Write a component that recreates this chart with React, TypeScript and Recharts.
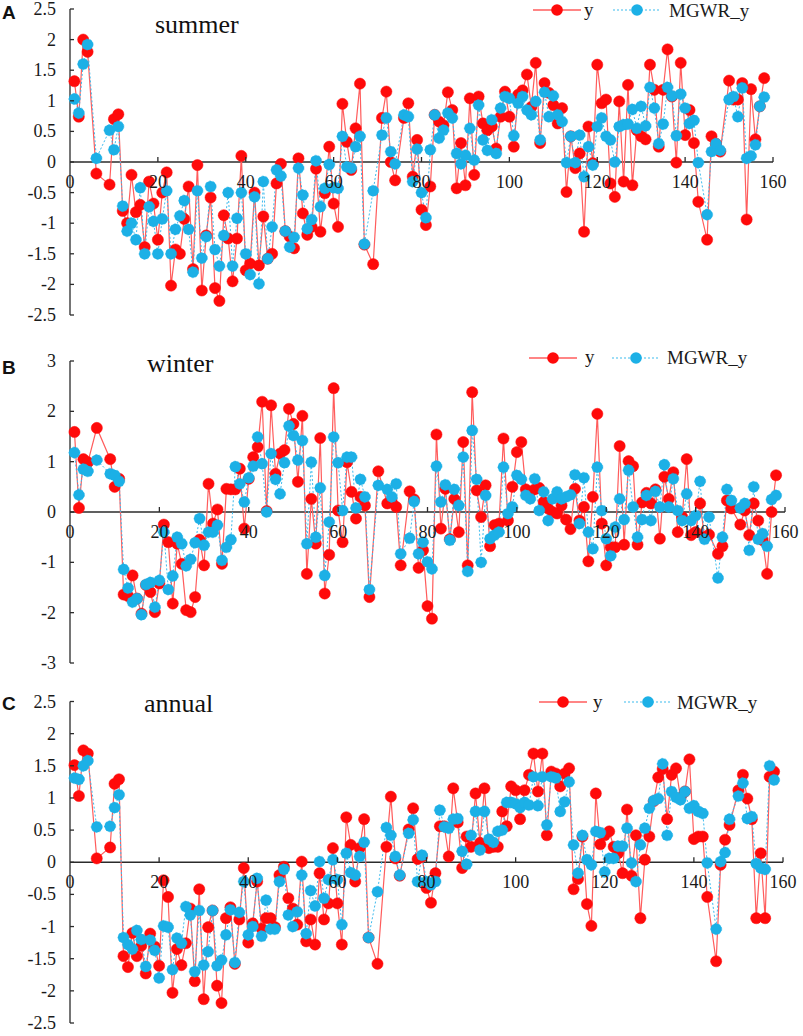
import React from 'react';
import { LineChart, Line, XAxis, YAxis, ReferenceLine } from 'recharts';

document.body.style.margin = '0';

// station index on the x axis (some ids have no value)
const stationIds = [
  1, 2, 3, 4, 6,
  9, 10, 11, 12, 13, 14, 15, 16, 17, 18,
  19, 20, 21, 22, 23, 24, 25, 26, 27, 28,
  29, 30, 31, 32, 33, 34, 35, 36, 37, 38,
  39, 40, 41, 42, 43, 44, 45, 46, 47, 48,
  49, 50, 51, 52, 53, 54, 55, 56, 57, 58,
  59, 60, 61, 62, 63, 64, 65, 66, 67,
  69, 71, 72, 73, 74,
  76, 77, 78, 79, 80, 81, 82, 83, 84, 85,
  86, 87, 88, 89, 90, 91, 92, 93, 94, 95,
  96, 97, 98, 99, 100, 101, 102, 103, 104, 105,
  106, 107, 108, 109, 110, 111, 112, 113, 114, 115,
  116, 117, 118, 119, 120, 121, 122, 123, 124, 125,
  126, 127, 128, 129, 130, 131, 132, 133, 134, 135,
  136, 137, 138, 139, 140, 141, 142, 143,
  145, 146, 147, 148,
  150, 151, 152, 153, 154, 155, 156, 157, 158,
];

const summerY = [
  1.32, 0.74, 2.0, 1.8, -0.19,
  -0.37, 0.7, 0.78, -0.8, -1.0, -0.21, -0.82, -0.7, -1.39, -0.32,
  -0.68, -1.27, -0.5, -0.17, -2.02, -1.43, -1.5, -0.93, -0.4, -1.75,
  -0.05, -2.1, -1.2, -0.58, -2.06, -2.27, -0.87, -1.25, -1.95, -1.25,
  0.1, -1.77, -1.66, -0.5, -1.69, -0.89, -1.58, -1.5, -0.35, -0.03,
  -1.13, -1.22, -1.41, 0.06, -0.84, -1.19, -1.06, -0.11, -1.14, -0.51,
  0.25, -0.68, -1.06, 0.95, 0.33, -0.13, 0.55, 1.28, -1.35,
  -1.67, 0.72, 1.15, 0.0, -0.3,
  0.72, 0.96, -0.24, 0.36, -0.78, -1.03, -0.4, 0.77, 0.66, 0.6,
  1.14, 0.85, -0.43, 0.31, -0.38, 1.04, -0.21, 1.07, 0.63, 0.52,
  0.58, 0.22, 0.74, 1.15, 0.74, 0.25, 1.1, 1.17, 1.43, 0.9,
  1.62, 0.31, 1.29, 1.13, 0.93, 0.63, 0.88, -0.49, 0.42, -0.1,
  0.14, -1.14, 0.58, -0.02, 1.59, 0.96, 1.02, -0.35, -0.57, 0.99,
  -0.32, 1.26, -0.38, 0.52, 0.42, 0.37, 1.59, 1.18, 0.25, 1.18,
  1.84, 1.07, -0.01, 1.62, 0.44, 0.85, 0.31, -0.65,
  -1.27, 0.42, 0.3, 0.17,
  1.33, 1.02, 1.02, 1.29, -0.94, 1.19, 0.37, 0.91, 1.37,
];

const summerMGWR = [
  1.03, 0.8, 1.6, 1.92, 0.06,
  0.52, 0.2, 0.58, -0.72, -1.13, -1.0, -1.27, -0.42, -1.5, -0.73,
  -0.97, -1.5, -0.93, -0.47, -1.5, -1.1, -0.88, -0.63, -1.1, -1.8,
  -0.47, -1.57, -1.22, -0.4, -1.43, -1.7, -1.2, -0.5, -1.7, -0.92,
  -0.5, -1.5, -1.84, -0.57, -1.99, -0.32, -1.58, -1.06, -0.13, -0.23,
  -1.13, -1.39, -1.23, -0.1, -0.54, -1.09, -0.94, 0.02, -0.73, -0.43,
  -0.04, -0.42, -0.43, 0.42, -0.08, -0.1, 0.25, 0.42, -1.34,
  -0.47, 0.44, 0.72, 0.17, -0.03,
  0.77, 0.74, -0.32, 0.21, -0.5, -0.91, 0.2, 0.77, 0.39, 0.52,
  0.8, 0.72, 0.14, -0.03, 0.11, 0.55, 0.03, 0.93, 0.36, 0.19,
  0.69, 0.14, 0.88, 1.07, 1.04, 0.43, 0.96, 1.07, 0.85, 0.77,
  0.99, 0.36, 1.14, 0.74, 1.08, 0.77, 0.66, -0.01, 0.42, -0.01,
  0.44, -0.24, 0.25, -0.05, 0.58, 0.72, 0.42, 0.36, 0.0, 0.58,
  0.61, 0.62, 0.86, 0.55, 0.91, 0.59, 1.22, 0.88, 0.3, 0.62,
  1.22, 1.08, 0.43, 1.11, 0.88, 0.63, 0.68, -0.01,
  -0.86, 0.17, 0.3, 0.19,
  1.02, 1.07, 0.74, 1.21, 0.06, 0.1, 0.28, 0.91, 1.06,
];

const winterY = [
  1.59, 0.08, 1.05, 0.99, 1.67,
  1.05, 0.5, 0.66, -1.64, -1.67, -1.26, -1.72, -2.02, -1.45, -1.59,
  -1.99, -1.42, -0.25, -0.6, -1.82, -0.63, -1.03, -1.95, -1.99, -1.69,
  -0.55, -1.06, 0.56, -0.23, 0.05, -1.03, 0.46, 0.45, 0.45, 0.86,
  -0.33, 0.66, 1.09, 1.29, 2.19, 0.02, 2.12, 0.76, 1.16, 1.23,
  2.05, 1.75, 0.6, 1.91, -1.23, 0.26, -0.63, 1.47, -1.62, -0.85,
  2.46, 0.03, -0.6, 0.99, 0.4, -0.13, 0.3, 0.13, -1.69,
  0.81, 0.17, 0.2, 0.1, -1.06,
  0.41, 0.25, -1.11, -0.76, -1.87, -2.12, 1.54, -0.33, 0.46, -0.54,
  0.26, -0.4, 1.39, -1.06, 2.38, 0.43, -0.1, 0.53, -0.68, -0.26,
  -0.23, 1.46, -0.17, 0.5, 1.19, 1.39, 0.45, 0.4, 0.45, 0.48,
  0.2, 0.07, 0.0, -0.03, 0.13, -0.15, -0.34, 0.46, -0.17, 0.1,
  -0.98, 0.3, 1.95, -0.23, -1.06, -0.7, -0.7, 1.31, -0.65, 1.01,
  0.91, -0.65, 0.19, 0.38, 0.17, 0.45, -0.53, 0.7, 0.26, 0.79,
  -0.4, -0.1, 1.05, -0.46, -0.4, 0.17, -0.5, -0.45,
  -0.83, -0.68, 0.23, 0.07,
  -0.25, 0.03, -0.46, 0.17, -0.17, -0.56, -1.23, 0.0, 0.73,
];

const winterMGWR = [
  1.18, 0.34, 0.85, 0.81, 1.03,
  0.76, 0.73, 0.61, -1.14, -1.51, -1.79, -1.72, -2.04, -1.44, -1.4,
  -1.89, -1.36, -0.4, -1.54, -1.27, -0.5, -0.63, -1.07, -0.94, -0.61,
  -0.13, -0.66, -0.4, -0.4, -0.26, -0.96, -0.7, -0.55, 0.9, 0.56,
  0.2, 0.68, 0.91, 1.49, 0.96, 0.0, 1.16, 0.65, 0.36, 0.98,
  1.71, 1.52, 1.03, 1.42, -0.63, 0.99, -0.5, 0.48, -1.26, -0.2,
  1.49, 0.98, 0.03, 1.09, 1.09, 0.08, 0.65, 0.3, -1.54,
  0.53, 0.45, 0.3, 0.56, -0.83,
  -0.52, 0.21, -0.83, -0.6, -0.99, -1.13, 0.91, 0.2, 0.54, -0.56,
  0.45, 0.13, 1.09, -1.18, 1.62, 0.65, -1.0, 0.33, -0.53, -0.46,
  -0.4, 0.89, -0.03, 0.1, 0.73, 0.65, 0.33, 0.26, 0.66, 0.03,
  0.4, -0.17, 0.26, 0.4, 0.26, 0.3, 0.34, 0.74, -0.23, 0.68,
  -0.4, -0.73, 0.89, 0.03, -0.53, -0.87, -0.3, 0.26, -0.15, 0.83,
  0.1, -0.5, -0.15, 0.33, -0.17, 0.41, 0.1, 0.94, 0.1, 0.66,
  0.03, -0.17, 0.36, -0.17, -0.07, 0.61, -0.54, -0.1,
  -1.31, -0.5, 0.45, 0.23,
  0.08, 0.17, -0.76, 0.5, -0.54, -0.43, -0.68, 0.25, 0.33,
];

const annualY = [
  1.51, 1.03, 1.74, 1.69, 0.06,
  0.23, 1.22, 1.29, -1.46, -1.63, -1.1, -1.46, -1.3, -1.73, -1.11,
  -1.31, -1.61, -0.28, -0.54, -2.03, -1.35, -1.6, -1.26, -0.72, -1.85,
  -0.42, -2.13, -1.01, -0.75, -1.92, -2.19, -0.87, -0.7, -1.58, -0.89,
  -0.09, -1.25, -0.95, -0.3, -1.03, -0.87, -0.87, -1.01, -0.2, -0.07,
  -0.56, -0.72, -0.97, 0.01, -1.23, -0.89, -1.28, -0.17, -0.89, -0.64,
  0.22, -0.64, -1.28, 0.7, 0.27, -0.3, 0.22, 0.67, -1.17,
  -1.58, 0.24, 1.02, 0.06, -0.21,
  0.51, 0.84, 0.05, 0.09, -0.4, -0.63, -0.17, 0.56, 0.56, 0.09,
  1.15, 0.62, -0.09, 0.4, 0.24, 1.07, 0.3, 1.15, 0.22, 0.24,
  0.24, 0.79, 0.56, 1.18, 1.12, 0.67, 1.12, 1.36, 1.69, 1.1,
  1.69, 0.42, 1.41, 1.38, 1.18, 1.38, 1.46, -0.42, -0.26, 0.4,
  -0.65, -0.99, 1.07, 0.28, 0.42, 0.48, 0.24, 0.14, -0.17, 0.82,
  -0.21, 0.42, -0.87, 0.04, 0.4, 0.95, 1.32, 1.45, 0.67, 1.36,
  1.46, 1.0, 1.1, 1.6, 0.36, 0.4, 0.4, -0.54,
  -1.54, -0.04, 0.35, 0.58,
  1.12, 1.36, 0.99, 0.67, -0.87, 0.14, -0.87, 1.33, 1.41,
];

const annualMGWR = [
  1.31, 1.29, 1.5, 1.58, 0.55,
  0.56, 0.85, 1.05, -1.17, -1.28, -1.35, -1.06, -1.2, -1.62, -1.21,
  -1.37, -1.8, -0.99, -1.01, -1.67, -1.18, -1.26, -0.69, -0.82, -1.7,
  -0.75, -1.6, -1.39, -0.75, -1.61, -1.52, -1.13, -0.74, -1.56, -0.78,
  -0.3, -1.13, -1.0, -0.25, -1.15, -0.59, -1.04, -1.04, -0.3, -0.11,
  -0.82, -1.0, -0.77, -0.2, -1.11, -0.44, -0.68, 0.01, -0.56, -0.27,
  0.04, -0.27, -0.97, 0.14, -0.16, -0.2, 0.09, 0.31, -1.17,
  -0.46, 0.54, 0.42, 0.09, -0.2,
  0.45, 0.66, -0.3, 0.11, -0.3, -0.35, -0.3, 0.81, 0.55, 0.53,
  0.67, 0.68, 0.17, -0.03, 0.42, 0.79, 0.19, 0.79, 0.36, 0.31,
  0.48, 0.5, 0.93, 0.93, 0.91, 0.85, 0.93, 0.89, 1.33, 0.88,
  1.33, 0.58, 1.33, 1.31, 0.79, 0.94, 1.25, 0.27, -0.17, 0.42,
  0.04, -0.04, 0.48, 0.46, -0.15, 0.06, 0.06, 0.25, 0.25, 0.53,
  -0.01, -0.3, 0.27, 0.53, 0.84, 0.96, 0.99, 1.53, 0.42, 1.1,
  1.01, 0.97, 1.1, 0.84, 0.88, 0.79, 0.76, -0.01,
  -1.04, 0.01, 0.15, 0.67,
  1.03, 1.23, 0.68, 0.71, -0.02, -0.09, -0.11, 1.5, 1.28,
];

const xTicks = [0, 20, 40, 60, 80, 100, 120, 140, 160];
const halfTicks = [-2.5, -2, -1.5, -1, -0.5, 0, 0.5, 1, 1.5, 2, 2.5];
const winterTicks = [-3, -2, -1, 0, 1, 2, 3];

const RED = '#ff0a0a';
const RED_LINE = '#ff5c5c';
const BLUE = '#1cb0e6';
const BLUE_LINE = '#3dbbee';
const AXIS = '#2b2b2b';
const SERIF = '"Liberation Serif", "Times New Roman", serif';
const SANS = '"Liberation Sans", Arial, sans-serif';

// x labels sit under the zero line, not under the plot
const makeXTick = (lift: number) => (props: any) => {
  const { x, y, payload } = props;
  const zy = y - lift;
  return (
    <g>
      {payload.value !== 0 && (
        <line x1={x} x2={x} y1={zy} y2={zy - 5} stroke={AXIS} strokeWidth={1.3} />
      )}
      <text x={x} y={zy + 26} textAnchor="middle" style={{ fontFamily: SERIF, fontSize: 18 }} fill="#1a1a1a">
        {payload.value}
      </text>
    </g>
  );
};

const YTick = (props: any) => {
  const { x, y, payload } = props;
  return (
    <g>
      <line x1={x} x2={x + 4} y1={y} y2={y} stroke={AXIS} strokeWidth={1.3} />
      <text x={x - 14} y={y + 6} textAnchor="end" style={{ fontFamily: SERIF, fontSize: 18 }} fill="#1a1a1a">
        {String(payload.value)}
      </text>
    </g>
  );
};

interface PanelProps {
  yValues: number[];
  mgwrValues: number[];
  yTicks: number[];
  top: number;
  height: number;
  margin: { top: number; right: number; bottom: number; left: number };
  lift: number;
}

const Panel: React.FC<PanelProps> = ({ yValues, mgwrValues, yTicks, top, height, margin, lift }) => {
  const rows = stationIds.map((x, i) => ({ x, y: yValues[i], mgwr: mgwrValues[i] }));
  const lo = yTicks[0];
  const hi = yTicks[yTicks.length - 1];
  return (
    <div style={{ position: 'absolute', left: 0, top }}>
      <LineChart width={803} height={height} data={rows} margin={margin}>
        <XAxis
          dataKey="x"
          type="number"
          domain={[0, 160]}
          ticks={xTicks}
          interval={0}
          axisLine={false}
          tickLine={false}
          tickSize={0}
          tickMargin={0}
          height={1}
          tick={makeXTick(lift)}
        />
        <YAxis
          type="number"
          domain={[lo, hi]}
          ticks={yTicks}
          interval={0}
          width={70}
          axisLine={{ stroke: AXIS, strokeWidth: 1.3 }}
          tickLine={false}
          tickSize={0}
          tickMargin={0}
          tick={YTick}
        />
        <ReferenceLine y={0} stroke={AXIS} strokeWidth={1.3} />
        <Line
          dataKey="y"
          type="linear"
          stroke={RED_LINE}
          strokeWidth={1.2}
          dot={{ r: 5.6, fill: RED, stroke: RED, strokeWidth: 0.5 }}
          activeDot={false}
          isAnimationActive={false}
        />
        <Line
          dataKey="mgwr"
          type="linear"
          stroke={BLUE_LINE}
          strokeWidth={1}
          strokeDasharray="2 2"
          dot={{ r: 5.6, fill: BLUE, stroke: BLUE, strokeWidth: 0.5 }}
          activeDot={false}
          isAnimationActive={false}
        />
      </LineChart>
    </div>
  );
};

const LegendKey = ({ x, y, text, textX, baseline }: { x: number; y: number; text: string; textX: number; baseline: number }) => {
  const isRed = text === 'y';
  return (
    <g>
      <line
        x1={x - 24}
        x2={x + 24}
        y1={y}
        y2={y}
        stroke={isRed ? RED_LINE : BLUE_LINE}
        strokeWidth={isRed ? 1.4 : 1.2}
        strokeDasharray={isRed ? undefined : '2 2'}
      />
      <circle cx={x} cy={y} r={5.8} fill={isRed ? RED : BLUE} />
      <text x={textX} y={baseline} style={{ fontFamily: SERIF, fontSize: 19 }} fill="#1a1a1a">
        {text}
      </text>
    </g>
  );
};

const Labels = () => (
  <svg width={803} height={1036} style={{ position: 'absolute', left: 0, top: 0, pointerEvents: 'none' }}>
    <text x={2} y={19} style={{ fontFamily: SANS, fontWeight: 'bold', fontSize: 19 }} fill="#111">A</text>
    <text x={2} y={374} style={{ fontFamily: SANS, fontWeight: 'bold', fontSize: 19 }} fill="#111">B</text>
    <text x={2} y={710} style={{ fontFamily: SANS, fontWeight: 'bold', fontSize: 19 }} fill="#111">C</text>

    <text x={155} y={33} style={{ fontFamily: SERIF, fontSize: 26 }} fill="#111">summer</text>
    <text x={147} y={372} style={{ fontFamily: SERIF, fontSize: 26 }} fill="#111">winter</text>
    <text x={144} y={712} style={{ fontFamily: SERIF, fontSize: 26 }} fill="#111">annual</text>

    <LegendKey x={557} y={10} text="y" textX={584} baseline={16} />
    <LegendKey x={637} y={10} text="MGWR_y" textX={669} baseline={17} />
    <LegendKey x={553} y={358} text="y" textX={585} baseline={363} />
    <LegendKey x={636} y={358} text="MGWR_y" textX={667} baseline={364} />
    <LegendKey x={563} y={702} text="y" textX={593} baseline={708} />
    <LegendKey x={648} y={702} text="MGWR_y" textX={677} baseline={709} />
  </svg>
);

export default function App() {
  return (
    <div style={{ position: 'relative', width: 803, height: 1036, background: '#fff', overflow: 'hidden' }}>
      <Panel
        yValues={summerY}
        mgwrValues={summerMGWR}
        yTicks={halfTicks}
        top={0}
        height={335}
        margin={{ top: 9, right: 30, bottom: 19, left: 0 }}
        lift={153}
      />
      <Panel
        yValues={winterY}
        mgwrValues={winterMGWR}
        yTicks={winterTicks}
        top={340}
        height={340}
        margin={{ top: 21, right: 18, bottom: 16, left: 0 }}
        lift={151}
      />
      <Panel
        yValues={annualY}
        mgwrValues={annualMGWR}
        yTicks={halfTicks}
        top={685}
        height={351}
        margin={{ top: 16.5, right: 20, bottom: 12, left: 0 }}
        lift={160.75}
      />
      <Labels />
    </div>
  );
}
